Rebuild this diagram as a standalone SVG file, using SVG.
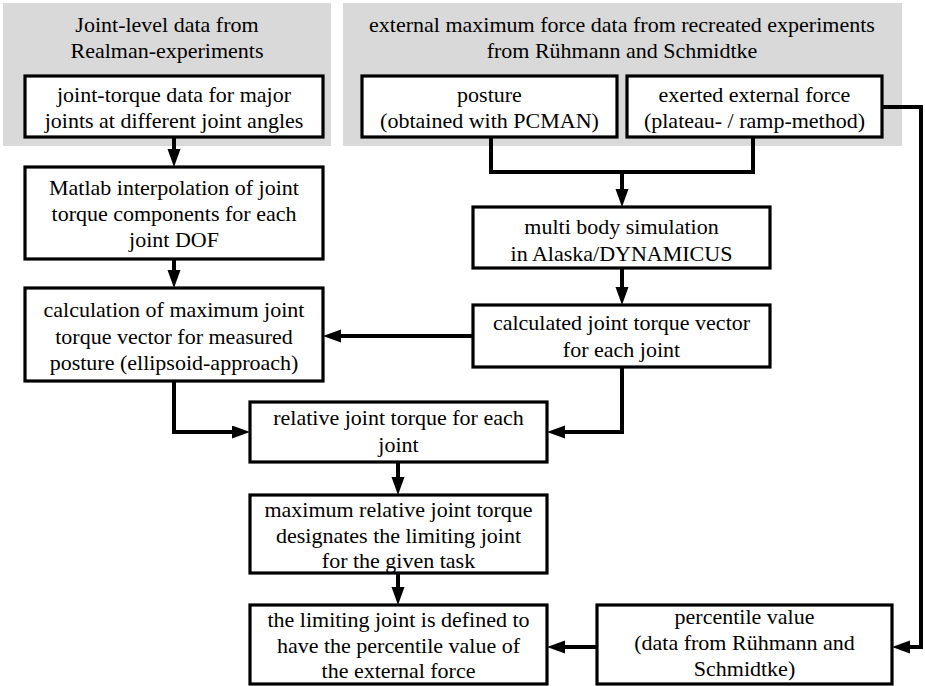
<svg xmlns="http://www.w3.org/2000/svg" width="925" height="686" viewBox="0 0 925 686">
<style>
.panel{fill:#d9d9d9;stroke:none}
.box{fill:#fff;stroke:#000;stroke-width:3.2}
text{font-family:"Liberation Serif","Times New Roman",serif;font-size:22px;fill:#000;text-anchor:middle}
.conn{fill:none;stroke:#000;stroke-width:4;stroke-linejoin:miter}
</style>
<defs>
<marker id="ah" markerUnits="userSpaceOnUse" markerWidth="20" markerHeight="14" refX="8" refY="6.5" orient="auto">
<path d="M0,0 L18,6.5 L0,13 z" fill="#000"/>
</marker>
</defs>
<g id="panel-left">
<rect class="panel" x="3" y="3" width="328" height="143"/>
<text x="167" y="32">Joint-level data from</text>
<text x="167" y="58">Realman-experiments</text>
</g>
<g id="panel-right">
<rect class="panel" x="343" y="3" width="559" height="143"/>
<text x="622" y="32">external maximum force data from recreated experiments</text>
<text x="622" y="58">from Rühmann and Schmidtke</text>
</g>
<g id="connectors">
<path class="conn" d="M174,137 V157" marker-end="url(#ah)"/>
<path class="conn" d="M174,259 V278" marker-end="url(#ah)"/>
<path class="conn" d="M491,137 V172 H753 V137"/>
<path class="conn" d="M622,172 V197" marker-end="url(#ah)"/>
<path class="conn" d="M622,268 V295" marker-end="url(#ah)"/>
<path class="conn" d="M473,336 H333" marker-end="url(#ah)"/>
<path class="conn" d="M174,381 V432 H240" marker-end="url(#ah)"/>
<path class="conn" d="M622,367 V432 H557" marker-end="url(#ah)"/>
<path class="conn" d="M398,462 V485" marker-end="url(#ah)"/>
<path class="conn" d="M398,573 V595" marker-end="url(#ah)"/>
<path class="conn" d="M882,107 H921 V647 H902" marker-end="url(#ah)"/>
<path class="conn" d="M597,647 H557" marker-end="url(#ah)"/>
</g>
<g id="joint-torque-data">
<rect class="box" x="25" y="76" width="298" height="61"/>
<text x="174" y="102">joint-torque data for major</text>
<text x="174" y="128">joints at different joint angles</text>
</g>
<g id="posture">
<rect class="box" x="362" y="76" width="255" height="61"/>
<text x="489.5" y="102">posture</text>
<text x="489.5" y="128">(obtained with PCMAN)</text>
</g>
<g id="exerted-force">
<rect class="box" x="627" y="76" width="255" height="61"/>
<text x="754.5" y="102">exerted external force</text>
<text x="754.5" y="128">(plateau- / ramp-method)</text>
</g>
<g id="matlab-interpolation">
<rect class="box" x="25" y="167" width="298" height="92"/>
<text x="174" y="195">Matlab interpolation of joint</text>
<text x="174" y="221">torque components for each</text>
<text x="174" y="247">joint DOF</text>
</g>
<g id="multi-body-simulation">
<rect class="box" x="473" y="207" width="297" height="61"/>
<text x="621.5" y="234">multi body simulation</text>
<text x="621.5" y="261">in Alaska/DYNAMICUS</text>
</g>
<g id="calc-max-torque">
<rect class="box" x="25" y="288" width="298" height="93"/>
<text x="174" y="317">calculation of maximum joint</text>
<text x="174" y="344">torque vector for measured</text>
<text x="174" y="370">posture (ellipsoid-approach)</text>
</g>
<g id="calc-joint-torque">
<rect class="box" x="473" y="305" width="297" height="62"/>
<text x="621.5" y="330">calculated joint torque vector</text>
<text x="621.5" y="357">for each joint</text>
</g>
<g id="relative-torque">
<rect class="box" x="250" y="402" width="297" height="60"/>
<text x="398.5" y="425">relative joint torque for each</text>
<text x="398.5" y="452">joint</text>
</g>
<g id="max-relative-torque">
<rect class="box" x="250" y="495" width="297" height="78"/>
<text x="398.5" y="517">maximum relative joint torque</text>
<text x="398.5" y="543">designates the limiting joint</text>
<text x="398.5" y="568">for the given task</text>
</g>
<g id="limiting-joint">
<rect class="box" x="250" y="605" width="297" height="79"/>
<text x="398.5" y="627">the limiting joint is defined to</text>
<text x="398.5" y="653">have the percentile value of</text>
<text x="398.5" y="678">the external force</text>
</g>
<g id="percentile-value">
<rect class="box" x="597" y="605" width="295" height="79"/>
<text x="744.5" y="624">percentile value</text>
<text x="744.5" y="650">(data from Rühmann and</text>
<text x="744.5" y="676">Schmidtke)</text>
</g>
</svg>
